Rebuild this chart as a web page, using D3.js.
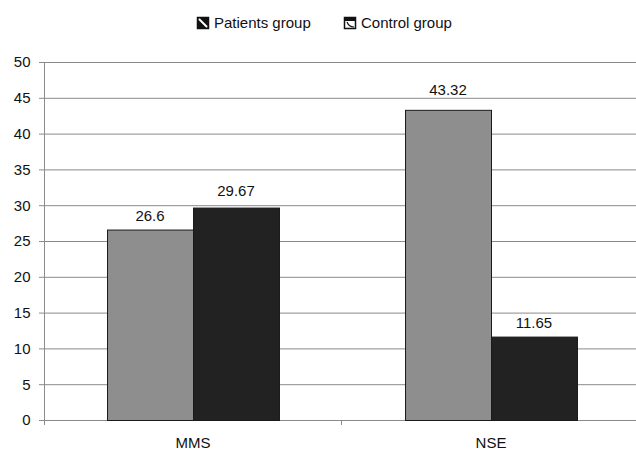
<!DOCTYPE html>
<html><head><meta charset="utf-8">
<script src="https://cdn.jsdelivr.net/npm/d3@7"></script>
<style>body{margin:0;background:#fff}svg{display:block;font-family:"Liberation Sans",Arial,sans-serif}</style>
</head><body><svg id="c" width="636" height="454"></svg>
<script>
const categories = ["MMS", "NSE"];
const seriesNames = ["Patients group", "Control group"];
const patients = [26.6, 43.32];
const control = [29.67, 11.65];
const valueLabels = [["26.6", "43.32"], ["29.67", "11.65"]];
const yTicks = [0, 5, 10, 15, 20, 25, 30, 35, 40, 45, 50];
const colors = ["#8e8e8e", "#222222"];

const svg = d3.select("#c");
const L = 44, R = 640, T = 62, B = 420;
const FS = 15;
const labelGap = [[9, 15], [12, 9]];
const y = d3.scaleLinear().domain([0, 50]).range([B, T]);
const x0 = d3.scaleBand().domain(categories).range([L, R]).paddingInner(0).paddingOuter(0);
const x1 = d3.scaleBand().domain([0, 1]).range([0, x0.bandwidth()]).paddingInner(0).paddingOuter(0.733);

// gridlines
svg.append("g").selectAll("line").data(yTicks).join("line")
  .attr("x1", L - 5).attr("x2", R).attr("y1", d => y(d) + 0.5).attr("y2", d => y(d) + 0.5)
  .attr("stroke", "#8a8a8a").attr("stroke-width", 1);
// y axis
const ya = svg.append("g").attr("transform", `translate(${L + 0.5},0)`)
  .call(d3.axisLeft(y).tickValues(yTicks).tickSize(5).tickPadding(9));
ya.select(".domain").remove();
ya.selectAll(".tick line").remove();
ya.selectAll("text").attr("font-size", FS).attr("fill", "#111").attr("font-family", "Liberation Sans, Arial, sans-serif");
svg.append("line").attr("x1", L + 0.5).attr("x2", L + 0.5).attr("y1", T).attr("y2", B + 5).attr("stroke", "#8a8a8a");
// x axis category ticks
svg.append("g").selectAll("line").data([L + x0.bandwidth()]).join("line")
  .attr("x1", d => d - 0.5).attr("x2", d => d - 0.5).attr("y1", B).attr("y2", B + 5).attr("stroke", "#8a8a8a");

const data = [patients, control];
const g = svg.append("g");
categories.forEach((c, ci) => {
  [0, 1].forEach(si => {
    const v = data[si][ci];
    const bx = x0(c) + x1(si);
    g.append("rect").attr("x", bx + 0.5).attr("y", y(v) + 0.5)
      .attr("width", x1.bandwidth()).attr("height", B - y(v))
      .attr("fill", colors[si]).attr("stroke", "#1a1a1a").attr("stroke-width", 1);
    g.append("text").attr("x", bx + x1.bandwidth() / 2).attr("y", y(v) - labelGap[si][ci])
      .attr("text-anchor", "middle").attr("font-size", FS).attr("fill", "#111").text(valueLabels[si][ci]);
  });
});
// category labels
svg.append("g").selectAll("text").data(categories).join("text")
  .attr("x", d => x0(d) + x0.bandwidth() / 2).attr("y", 448)
  .attr("text-anchor", "middle").attr("font-size", FS).attr("fill", "#111").text(d => d);

// legend
const leg = svg.append("g");
const legX = [197, 344];
seriesNames.forEach((n, i) => {
  const lg = leg.append("g").attr("transform", `translate(${legX[i]},17)`);
  lg.append("rect").attr("x", 0.5).attr("y", 0.5).attr("width", 11).attr("height", 11)
    .attr("fill", "#fff").attr("stroke", "#111").attr("stroke-width", 1.5);
  if (i === 0) {
    lg.append("path").attr("d", "M1,1 L11,1 L11,11 Z").attr("fill", "#111");
    lg.append("path").attr("d", "M1,1 L1,11 L11,11 Z").attr("fill", "#111");
    lg.append("path").attr("d", "M2,2 L10,10").attr("stroke", "#fff").attr("stroke-width", 2);
  } else {
    lg.append("rect").attr("x", 1).attr("y", 1).attr("width", 10).attr("height", 3).attr("fill", "#111");
    lg.append("path").attr("d", "M3,5 Q5,10 10,10").attr("stroke", "#111").attr("fill", "none").attr("stroke-width", 1.2);
  }
  lg.append("text").attr("x", 17).attr("y", 11).attr("font-size", FS).attr("fill", "#111").text(n);
});
</script></body></html>
